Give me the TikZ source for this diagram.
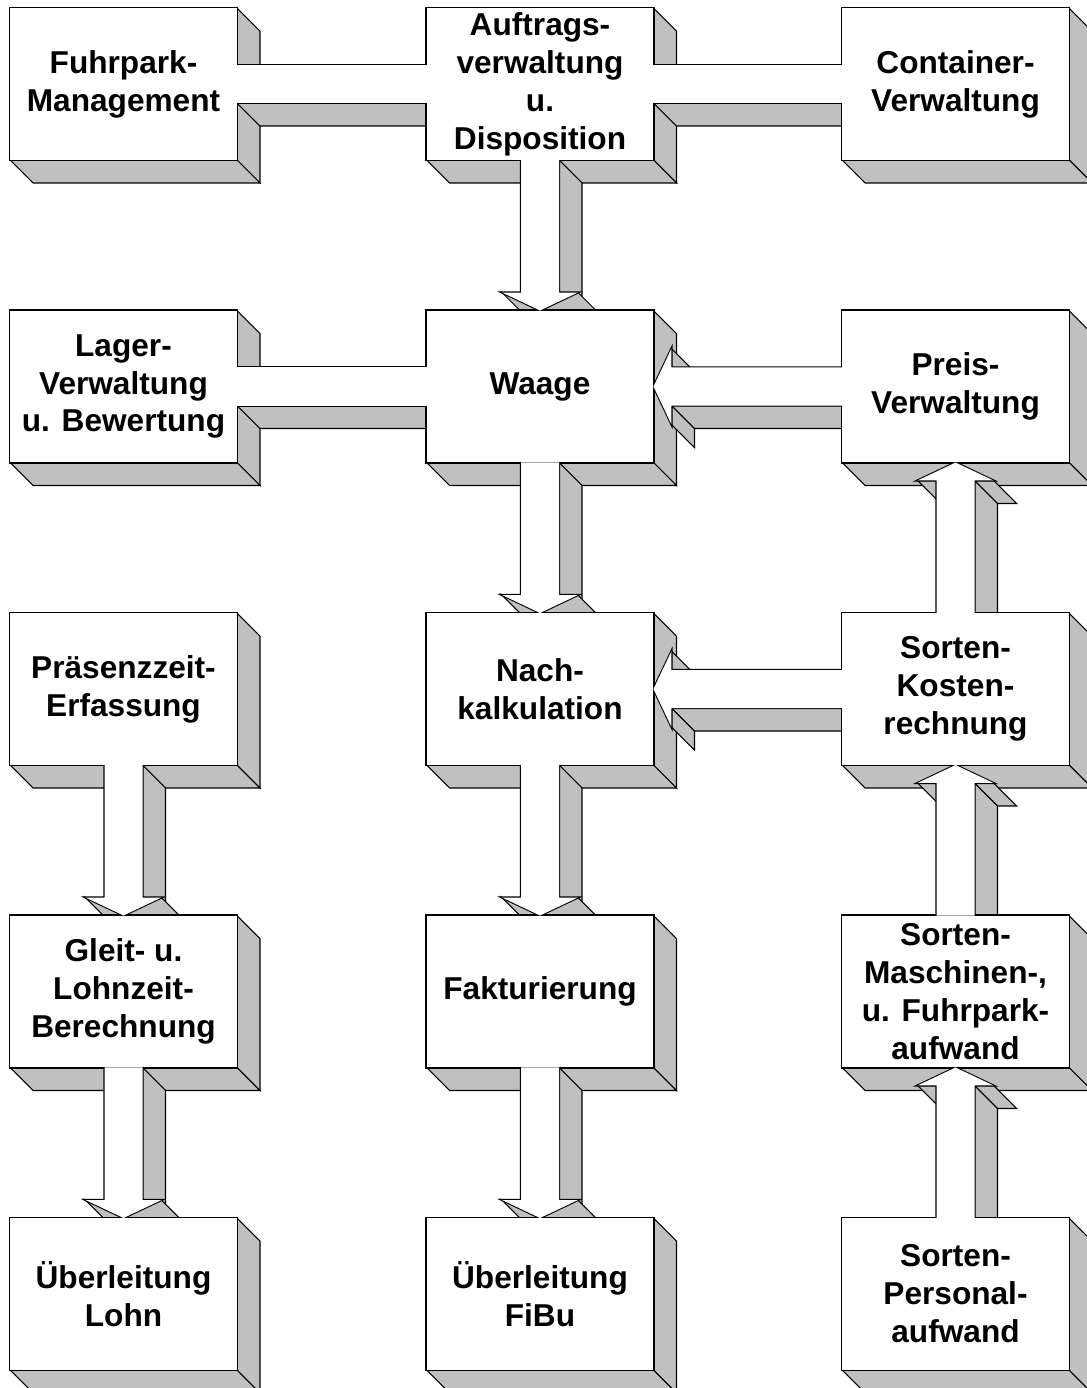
\documentclass[tikz,border=0pt]{standalone}
\usepackage{fontspec}
\setmainfont{Liberation Sans}
\usetikzlibrary{calc}
\definecolor{schatten}{RGB}{192,192,192}
\pgfdeclarelayer{kanten}
\pgfdeclarelayer{pfeilkanten}
\pgfdeclarelayer{umriss}
\pgfdeclarelayer{flaeche}
\pgfsetlayers{kanten,pfeilkanten,umriss,flaeche,main}
% Vorderseite: Umriss doppelt breit, dann weiss fuellen
\newcommand{\vorne}[1]{%
  \begin{pgfonlayer}{umriss}\draw[rand] #1;\end{pgfonlayer}%
  \begin{pgfonlayer}{flaeche}\fill[weiss] #1;\end{pgfonlayer}}
\begin{document}
\begin{tikzpicture}[x=0.02cm, y=-0.02cm, line join=miter,
        modul/.style={rectangle, minimum width=4.54cm, minimum height=3.04cm, inner sep=0pt, outer sep=0pt,
                align=center, font=\fontsize{18}{21.6}\selectfont\bfseries},
        seite/.style={fill=schatten, draw=black, line width=0.6pt},
        rand/.style={draw=black, line width=1.2pt},
        weiss/.style={fill=white}]
        \useasboundingbox (0,0) rectangle (1087,1388);
        % Module
        \node[modul] (fuhrpark)  at (123.5,84)    {Fuhrpark-\\Management};
        \node[modul] (auftrag)   at (540,84)      {Auftrags-\\verwaltung\\u.\\Disposition};
        \node[modul] (container) at (955.5,84)    {Container-\\Verwaltung};
        \node[modul] (lager)     at (123.5,386.5) {Lager-\\Verwaltung\\u. Bewertung};
        \node[modul] (waage)     at (540,386.5)   {Waage};
        \node[modul] (preis)     at (955.5,386.5) {Preis-\\Verwaltung};
        \node[modul] (praesenz)  at (123.5,689)   {Präsenzzeit-\\Erfassung};
        \node[modul] (nachkalk)  at (540,689)     {Nach-\\kalkulation};
        \node[modul] (kosten)    at (955.5,689)   {Sorten-\\Kosten-\\rechnung};
        \node[modul] (gleit)     at (123.5,991.5) {Gleit- u.\\Lohnzeit-\\Berechnung};
        \node[modul] (faktura)   at (540,991.5)   {Fakturierung};
        \node[modul] (maschinen) at (955.5,991.5) {Sorten-\\Maschinen-,\\u. Fuhrpark-\\aufwand};
        \node[modul] (lohn)      at (123.5,1294)  {Überleitung\\Lohn};
        \node[modul] (fibu)      at (540,1294)    {Überleitung\\FiBu};
        \node[modul] (personal)  at (955.5,1294)  {Sorten-\\Personal-\\aufwand};
        % Kanten der Module
        \foreach \m in {fuhrpark,auftrag,container,lager,waage,preis,praesenz,nachkalk,kosten,
                gleit,faktura,maschinen,lohn,fibu,personal} {
            \begin{pgfonlayer}{kanten}
                \draw[seite] (\m.north east) -- ++(23,23) -- ($(\m.south east)+(23,23)$) -- (\m.south east) -- cycle;
                \draw[seite] (\m.south west) -- (\m.south east) -- ++(23,23) -- ($(\m.south west)+(23,23)$) -- cycle;
            \end{pgfonlayer}
            \vorne{(\m.north west) rectangle (\m.south east)}
        }
        % Verbindungen ohne Spitze
        \foreach \a/\b in {fuhrpark/auftrag, auftrag/container, lager/waage} {
            \coordinate (s) at (\a.east); \coordinate (t) at (\b.west);
            \begin{pgfonlayer}{pfeilkanten}
                \draw[seite] ($(s)+(0,19)$) -- ($(t)+(0,19)$) -- ++(23,23) -- ($(s)+(23,42)$) -- cycle;
            \end{pgfonlayer}
            \vorne{($(s)+(0,-19)$) rectangle ($(t)+(0,19)$)}
        }
        % Pfeile nach unten
        \foreach \a/\b in {auftrag/waage, waage/nachkalk, nachkalk/faktura, faktura/fibu, praesenz/gleit, gleit/lohn} {
            \coordinate (s) at (\a.south); \coordinate (t) at (\b.north);
            \begin{pgfonlayer}{pfeilkanten}
                \draw[seite] ($(s)+(19,0)$) -- ($(t)+(19,-18)$) -- ++(23,23) -- ($(s)+(42,23)$) -- cycle;
                \draw[seite] ($(t)+(38,-18)$) -- (t) -- ++(23,23) -- ($(t)+(61,5)$) -- cycle;
                \draw[seite] ($(t)+(-38,-18)$) -- (t) -- ++(23,23) -- ($(t)+(-15,5)$) -- cycle;
            \end{pgfonlayer}
            \vorne{($(s)+(-19,0)$) -- ($(s)+(19,0)$) -- ($(t)+(19,-18)$) -- ($(t)+(38,-18)$) -- (t)
                -- ($(t)+(-38,-18)$) -- ($(t)+(-19,-18)$) -- cycle}
        }
        % Pfeile nach oben
        \foreach \a/\b in {personal/maschinen, maschinen/kosten, kosten/preis} {
            \coordinate (s) at (\a.north); \coordinate (t) at (\b.south);
            \begin{pgfonlayer}{pfeilkanten}
                \draw[seite] ($(t)+(19,18)$) -- ($(s)+(19,0)$) -- ++(23,23) -- ($(t)+(42,41)$) -- cycle;
                \draw[seite] ($(t)+(19,18)$) -- ($(t)+(38,18)$) -- ++(23,23) -- ($(t)+(42,41)$) -- cycle;
                \draw[seite] ($(t)+(-38,18)$) -- ($(t)+(-19,18)$) -- ++(23,23) -- ($(t)+(-15,41)$) -- cycle;
            \end{pgfonlayer}
            \vorne{($(s)+(-19,0)$) -- ($(s)+(19,0)$) -- ($(t)+(19,18)$) -- ($(t)+(38,18)$) -- (t)
                -- ($(t)+(-38,18)$) -- ($(t)+(-19,18)$) -- cycle}
        }
        % Pfeile nach links
        \foreach \a/\b in {preis/waage, kosten/nachkalk} {
            \coordinate (s) at (\a.west); \coordinate (t) at (\b.east);
            \begin{pgfonlayer}{pfeilkanten}
                \draw[seite] ($(t)+(18,19)$) -- ($(s)+(0,19)$) -- ++(23,23) -- ($(t)+(41,42)$) -- cycle;
                \draw[seite] ($(t)+(18,19)$) -- ($(t)+(18,38)$) -- ++(23,23) -- ($(t)+(41,42)$) -- cycle;
                \draw[seite] ($(t)+(18,-38)$) -- ($(t)+(18,-19)$) -- ++(23,23) -- ($(t)+(41,-15)$) -- cycle;
            \end{pgfonlayer}
            \vorne{($(s)+(0,-19)$) -- ($(s)+(0,19)$) -- ($(t)+(18,19)$) -- ($(t)+(18,38)$) -- (t)
                -- ($(t)+(18,-38)$) -- ($(t)+(18,-19)$) -- cycle}
        }
    \end{tikzpicture}
\end{document}
